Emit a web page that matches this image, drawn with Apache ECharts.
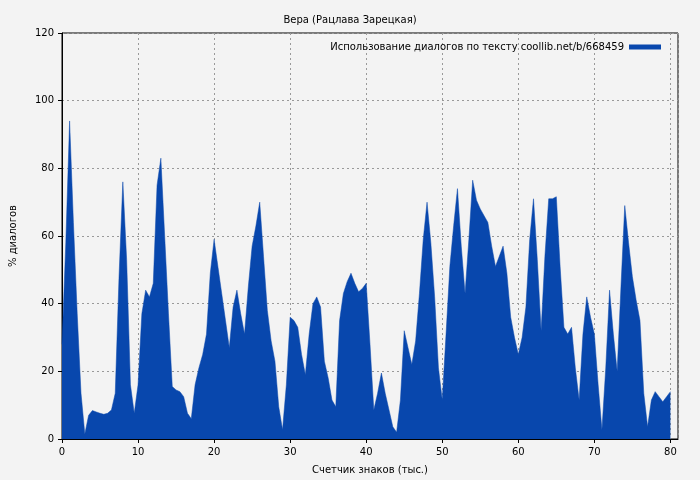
<!DOCTYPE html>
<html>
<head>
<meta charset="utf-8">
<script src="https://cdn.jsdelivr.net/npm/echarts@6/dist/echarts.min.js"></script>
<style>
  html, body { margin: 0; padding: 0; background: #f3f3f3; }
  #main { width: 700px; height: 480px; }
</style>
</head>
<body>
<div id="main"></div>
<script>
// x step is 0.5 thousand characters, from 0 to 80
var xStep = 0.5;
var dialogPct = [
  28, 58, 94, 64, 37, 13.5, 1.5, 7, 8.4, 8, 7.6, 7.3, 7.6, 8.6, 13.5, 48, 76, 53, 16, 7.6,
  16, 37, 44, 42, 46, 75, 83, 60, 37, 15.5, 14.5, 14, 12.5, 7.6, 6, 16, 21, 25, 31, 49,
  59, 51, 43, 35, 27, 39, 44, 37, 31, 45, 57, 63, 70, 54, 38, 29, 23, 9.5, 2.7, 16,
  36, 35, 33, 25, 19, 31, 40, 42, 39, 23, 18, 11.5, 9.5, 35, 43, 46.5, 49, 46, 43.5, 44.5,
  46, 28, 8.6, 13.5, 19.5, 13.5, 8.6, 3.6, 2, 11.5, 32, 27, 22, 29, 43, 59, 70, 58, 42, 21,
  11.5, 31, 51, 63, 74, 57, 43, 59, 76.5, 70.6, 68, 66, 64, 57, 51, 54, 57, 49, 36, 30,
  25, 30, 39, 59, 71, 53, 32, 54, 71, 71, 71.6, 51, 33, 31, 33, 21, 11.5, 31, 42, 36,
  31, 16, 2.7, 21, 44, 31, 20, 45, 69, 58, 48, 41, 35, 13.5, 3.6, 11.5, 14, 12.5, 11, 12.5,
  14
];
var xTicks = [0, 10, 20, 30, 40, 50, 60, 70, 80];
var yTicks = [0, 20, 40, 60, 80, 100, 120];

var points = dialogPct.map(function (v, i) { return [i * xStep, v]; });

var chart = echarts.init(document.getElementById('main'));
chart.setOption({
  backgroundColor: '#f3f3f3',
  animation: false,
  textStyle: { fontFamily: 'DejaVu Sans' },
  title: {
    text: 'Вера (Рацлава Зарецкая)',
    left: 'center', top: 10,
    textStyle: { fontSize: 10, fontWeight: 'normal', color: '#000' }
  },
  legend: {
    right: 34, top: 37,
    itemWidth: 32, itemHeight: 5, itemGap: 6,
    icon: 'rect',
    align: 'right',
    textStyle: { fontSize: 10, color: '#000' },
    data: ['Использование диалогов по тексту coollib.net/b/668459']
  },
  grid: {
    left: 60, right: 22, top: 33, bottom: 41,
    show: true, borderColor: '#000', borderWidth: 1, backgroundColor: 'transparent'
  },
  xAxis: {
    type: 'value', min: 0, max: 81, interval: 10,
    name: 'Счетчик знаков (тыс.)', nameLocation: 'middle', nameGap: 26,
    nameTextStyle: { fontSize: 10, color: '#000' },
    axisLine: { lineStyle: { color: '#000' } },
    axisTick: { length: 4, inside: false, lineStyle: { color: '#000' } },
    axisLabel: {
      fontSize: 10, color: '#000', showMaxLabel: false,
      formatter: function (v) { return xTicks.indexOf(v) >= 0 ? v : ''; }
    },
    splitLine: { lineStyle: { color: '#999', type: [2, 3] } }
  },
  yAxis: {
    type: 'value', min: yTicks[0], max: yTicks[yTicks.length - 1], interval: 20,
    name: '% диалогов', nameLocation: 'middle', nameGap: 44, nameRotate: 90,
    nameTextStyle: { fontSize: 10, color: '#000' },
    axisLine: { show: true, lineStyle: { color: '#000' } },
    axisTick: { show: true, length: 4, lineStyle: { color: '#000' } },
    axisLabel: { fontSize: 10, color: '#000' },
    splitLine: { lineStyle: { color: '#999', type: [2, 3] } }
  },
  series: [{
    name: 'Использование диалогов по тексту coollib.net/b/668459',
    type: 'line',
    data: points,
    showSymbol: false,
    itemStyle: { color: '#0847ad' },
    lineStyle: { width: 0.5, color: '#0847ad' },
    areaStyle: { color: '#0847ad', opacity: 1 }
  }]
});
</script>
</body>
</html>
